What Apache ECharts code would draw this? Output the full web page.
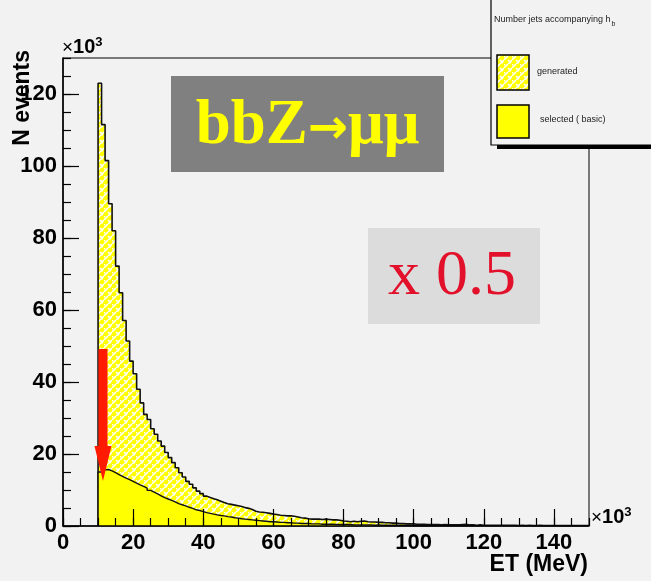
<!DOCTYPE html>
<html>
<head>
<meta charset="utf-8">
<script src="https://cdn.jsdelivr.net/npm/echarts@6/dist/echarts.min.js"></script>
<style>
html,body{margin:0;padding:0;background:#f2f2f2;}
#c{width:651px;height:581px;}
</style>
</head>
<body>
<div id="c"></div>
<script>
// ET bins (x10^3 MeV): first bin low edge and width
const binStart = 10;
const binWidth = 1;
// N events (x10^3) per bin, from 10 upwards
const generated = [
  123, 111.5, 101.5, 89.5, 82, 72.2, 64.8, 57.1, 51.4, 45.8,
  42.3, 38, 34.2, 31, 29.6, 27, 25.5, 23.6, 22.2, 20.4,
  19, 17.6, 16.2, 14.8, 13.6, 12.4, 11.6, 10.6, 9.7, 9.0,
  8.3, 7.9, 7.6, 7.3, 6.9, 6.5, 6.2, 6.0, 5.8, 5.6,
  5.4, 5.1, 4.9, 4.6, 4.1, 3.9, 3.8, 3.7, 3.5, 3.3,
  3.2, 3.0, 2.9, 2.8, 2.8, 2.7, 2.5, 2.3, 2.2, 2.0,
  1.9, 1.9, 1.9, 1.8, 1.9, 1.8, 1.7, 1.7, 1.6, 1.4,
  1.3, 1.2, 1.3, 1.2, 1.3, 1.4, 1.2, 1.1, 1.1, 1.0,
  1.0, 0.9, 0.9, 0.8, 0.8, 0.7, 0.7, 0.6, 0.6, 0.6,
  0.5, 0.5, 0.5, 0.4, 0.4, 0.4, 0.4, 0.3, 0.4, 0.3,
  0.3, 0.3, 0.3, 0.4, 0.5, 0.3, 0.3, 0.2, 0.3, 0.2,
  0.2, 0.2, 0.2, 0.2, 0.2, 0.2, 0.2, 0.2, 0.2, 0.1,
  0.2, 0.1, 0.2, 0.1, 0.1, 0.2, 0.1, 0.1, 0.1, 0.1,
  0.1, 0.1, 0.1, 0.1, 0.1, 0.1, 0.1, 0.1, 0.1, 0.1
];
const selected = [
  15.0, 15.6, 15.7, 15.3, 14.8, 14.3, 13.8, 13.3, 12.9, 12.4,
  11.9, 11.4, 11.0, 10.5, 9.9, 9.4, 8.9, 8.4, 7.9, 7.5,
  7.1, 6.7, 6.2, 5.9, 5.6, 5.2, 4.9, 4.5, 4.3, 4.0,
  3.7, 3.5, 3.3, 3.1, 2.9, 2.8, 2.6, 2.5, 2.3, 2.2,
  2.0, 1.9, 1.8, 1.7, 1.6, 1.5, 1.4, 1.3, 1.2, 1.2,
  1.1, 1.0, 1.0, 0.9, 0.9, 0.8, 0.8, 0.7, 0.7, 0.7,
  0.6, 0.6, 0.6, 0.5, 0.5, 0.5, 0.5, 0.4, 0.4, 0.4,
  0.4, 0.4, 0.3, 0.3, 0.3, 0.3, 0.3, 0.3, 0.2, 0.3,
  0.2, 0.2, 0.2, 0.2, 0.2, 0.2, 0.2, 0.2, 0.2, 0.1,
  0.2, 0.1, 0.1, 0.1, 0.1, 0.1, 0.1, 0.1, 0.1, 0.1,
  0.1, 0.1, 0.1, 0.1, 0.1, 0.1, 0.1, 0.1, 0.1, 0.1,
  0.1, 0.1, 0.1
];
const seriesNames = ['generated', 'selected ( basic)'];
const legendTitle = 'Number jets accompanying h';
// arrow annotation: x, top value, tip value
const arrow = [[11.4, 49.2, 12.5]];

function stepPoints(vals) {
  const pts = [[binStart, 0]];
  vals.forEach((v, i) => pts.push([binStart + i * binWidth, v]));
  pts.push([binStart + vals.length * binWidth, 0]);
  return pts;
}

// basket-weave pattern
const pc = document.createElement('canvas');
pc.width = 8; pc.height = 8;
const g = pc.getContext('2d');
g.fillStyle = '#ffff00'; g.fillRect(0, 0, 8, 8);
g.strokeStyle = '#ffffff'; g.lineWidth = 1.7;
g.beginPath();
g.moveTo(0, 4); g.lineTo(4, 0);
g.moveTo(4, 8); g.lineTo(8, 4);
g.moveTo(4, 4); g.lineTo(7, 7);
g.moveTo(0, 0); g.lineTo(1, 1);
g.stroke();
const weave = { image: pc, repeat: 'repeat' };

const FONT = 'Liberation Sans';
const chart = echarts.init(document.getElementById('c'), null, { renderer: 'canvas' });

const labelStyle = { color: '#000', fontFamily: FONT, fontWeight: 'bold', fontSize: 22 };
const multRich = {
  x: { fontFamily: FONT, fontSize: 19, fill: '#000' },
  n: { fontFamily: FONT, fontSize: 20, fontWeight: 'bold', fill: '#000' },
  s: { fontFamily: FONT, fontSize: 13, fontWeight: 'bold', fill: '#000', verticalAlign: 'top', padding: [0, 0, 10, 0] }
};

chart.setOption({
  backgroundColor: '#f2f2f2',
  animation: false,
  grid: { left: 63, right: 62, top: 58, bottom: 55, show: true, borderColor: '#000', borderWidth: 1, backgroundColor: 'transparent' },
  xAxis: [
    { type: 'value', min: 0, max: 150, interval: 20, position: 'bottom', z: 5,
      axisLine: { lineStyle: { color: '#000', width: 1.5 } },
      axisTick: { inside: true, length: 17, lineStyle: { color: '#000', width: 1.2 } },
      axisLabel: Object.assign({ margin: 6, showMaxLabel: false }, labelStyle),
      splitLine: { show: false } },
    { type: 'value', min: 0, max: 150, interval: 5, position: 'bottom', z: 5,
      axisLine: { show: false },
      axisTick: { inside: true, length: 8, lineStyle: { color: '#000', width: 1.2 } },
      axisLabel: { show: false }, splitLine: { show: false } }
  ],
  yAxis: [
    { type: 'value', min: 0, max: 130, interval: 20, position: 'left', z: 5,
      axisLine: { show: true, lineStyle: { color: '#000', width: 1.5 } },
      axisTick: { show: true, inside: true, length: 16, lineStyle: { color: '#000', width: 1.2 } },
      axisLabel: Object.assign({ margin: 6, showMaxLabel: false }, labelStyle),
      splitLine: { show: false } },
    { type: 'value', min: 0, max: 130, interval: 5, position: 'left', z: 5,
      axisLine: { show: false },
      axisTick: { show: true, inside: true, length: 8, lineStyle: { color: '#000', width: 1.2 } },
      axisLabel: { show: false }, splitLine: { show: false } }
  ],
  series: [
    { name: seriesNames[0], type: 'line', step: 'end', data: stepPoints(generated),
      showSymbol: false, symbol: 'none', xAxisIndex: 0, yAxisIndex: 0,
      lineStyle: { color: '#111', width: 1.6 }, areaStyle: { color: weave, opacity: 1 }, z: 2 },
    { name: seriesNames[1], type: 'line', step: 'end', data: stepPoints(selected),
      showSymbol: false, symbol: 'none', xAxisIndex: 0, yAxisIndex: 0,
      lineStyle: { color: '#111', width: 1.4 }, areaStyle: { color: '#ffff00', opacity: 1 }, z: 3 },
    { type: 'custom', data: arrow, xAxisIndex: 0, yAxisIndex: 0, z: 6, clip: false,
      renderItem: function (params, api) {
        const top = api.coord([api.value(0), api.value(1)]);
        const tip = api.coord([api.value(0), api.value(2)]);
        const x = tip[0], hs = 4.5, hh = 8.5, hl = 35;
        return { type: 'polygon',
          shape: { points: [[x - hs, top[1]], [x + hs, top[1]], [x + hs, tip[1] - hl], [x + hh, tip[1] - hl],
                            [x, tip[1]], [x - hh, tip[1] - hl], [x - hs, tip[1] - hl]] },
          style: { fill: '#ff1a00' } };
      } }
  ],
  graphic: [
    { type: 'text', left: 62, top: 36, z: 10, style: { text: '{x|×}{n|10}{s|3}', rich: multRich } },
    { type: 'text', left: 591, top: 506, z: 10, style: { text: '{x|×}{n|10}{s|3}', rich: multRich } },
    { type: 'text', x: 23, y: 50, rotation: Math.PI / 2, z: 10,
      style: { text: 'N events', font: 'bold 23px "Liberation Sans"', fill: '#000', align: 'right', verticalAlign: 'middle' } },
    { type: 'text', x: 588, y: 565, z: 10,
      style: { text: 'ET (MeV)', font: 'bold 23px "Liberation Sans"', fill: '#000', align: 'right', verticalAlign: 'middle' } },
    { type: 'rect', shape: { x: 171, y: 76, width: 273, height: 96 }, style: { fill: '#808080' }, z: 8 },
    { type: 'text', x: 307.5, y: 127, z: 9,
      style: { text: '{t|bbZ}{a|→}{t|μμ}', align: 'center', verticalAlign: 'middle', rich: {
        t: { fontFamily: 'Liberation Serif', fontWeight: 'bold', fontSize: 63, fill: '#ffff00' },
        a: { fontFamily: 'DejaVu Sans', fontWeight: 'bold', fontSize: 48, fill: '#ffff00', padding: [8, 0, 0, 0] } } } },
    { type: 'rect', shape: { x: 368, y: 228, width: 172, height: 96 }, style: { fill: '#dcdcdc' }, z: 8 },
    { type: 'text', x: 452, y: 277, z: 9,
      style: { text: 'x 0.5', font: '64px "Liberation Serif"', fill: '#e3102c', align: 'center', verticalAlign: 'middle' } },
    { type: 'rect', shape: { x: 497, y: 145, width: 160, height: 4 }, style: { fill: '#000' }, z: 11 },
    { type: 'rect', shape: { x: 491, y: -2, width: 170, height: 147 }, style: { fill: '#f2f2f2', stroke: '#000', lineWidth: 1.2 }, z: 12 },
    { type: 'text', x: 494, y: 20, z: 13,
      style: { text: '{a|' + legendTitle + '}{b|b}', verticalAlign: 'middle', rich: {
        a: { fontFamily: FONT, fontSize: 9, fill: '#222' },
        b: { fontFamily: FONT, fontSize: 7, fill: '#222', padding: [8, 0, 0, 1] } } } },
    { type: 'rect', shape: { x: 497, y: 55, width: 32, height: 35 }, style: { fill: weave, stroke: '#000', lineWidth: 1.5 }, z: 13 },
    { type: 'text', x: 537, y: 72, z: 13, style: { text: seriesNames[0], font: '9px "Liberation Sans"', fill: '#222', verticalAlign: 'middle' } },
    { type: 'rect', shape: { x: 497, y: 105, width: 32, height: 33 }, style: { fill: '#ffff00', stroke: '#000', lineWidth: 1.5 }, z: 13 },
    { type: 'text', x: 540, y: 120, z: 13, style: { text: seriesNames[1], font: '9px "Liberation Sans"', fill: '#222', verticalAlign: 'middle' } }
  ]
});
</script>
</body>
</html>
